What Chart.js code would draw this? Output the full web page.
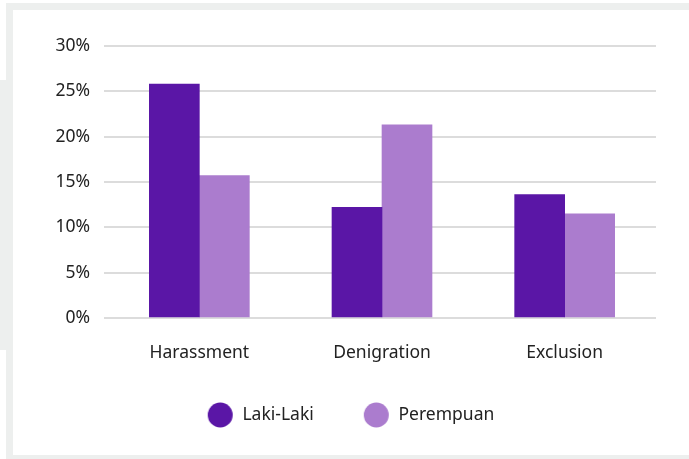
<!DOCTYPE html>
<html><head><meta charset="utf-8">
<script src="https://cdn.jsdelivr.net/npm/chart.js@4"></script>
<style>
html,body{margin:0;padding:0;background:#fff;width:689px;height:459px;overflow:hidden;position:relative}
#frame{position:absolute;left:6px;top:3px;width:683px;height:456px;background:#edefee}
#strip{position:absolute;left:0;top:80px;width:6px;height:270px;background:#edefee}
#panel{position:absolute;left:13px;top:10px;width:676px;height:445px;background:#fff}
</style></head><body>
<div id="frame"></div><div id="strip"></div>
<div id="panel"><canvas id="c" width="676" height="445"></canvas></div>
<script>
const categories = ['Harassment', 'Denigration', 'Exclusion'];
const lakiLaki = [25.8, 12.2, 13.6];
const perempuan = [15.7, 21.3, 11.5];
const seriesNames = ['Laki-Laki', 'Perempuan'];
const seriesColors = ['#5a16a6', '#ab7cce'];

function dot(color) {
  const c = document.createElement('canvas');
  c.width = 66; c.height = 26;
  const x = c.getContext('2d');
  x.fillStyle = color;
  x.beginPath(); x.arc(52.5, 13, 12.5, 0, 2 * Math.PI); x.fill();
  return c;
}
const dots = seriesColors.map(dot);

Chart.defaults.font.family = "'Noto Sans', sans-serif";
Chart.defaults.font.size = 17.5;
Chart.defaults.color = '#222';

new Chart(document.getElementById('c'), {
  type: 'bar',
  data: {
    labels: categories,
    datasets: [
      { label: seriesNames[0], data: lakiLaki, backgroundColor: seriesColors[0], barThickness: 50 },
      { label: seriesNames[1], data: perempuan, backgroundColor: seriesColors[1], barThickness: 50 }
    ]
  },
  options: {
    responsive: false,
    animation: false,
    devicePixelRatio: 1,
    layout: { padding: { left: -7, right: 33, top: 36, bottom: 21.25 } },
    scales: {
      x: {
        grid: { display: false, drawTicks: false },
        border: { display: false },
        ticks: { padding: 25, maxRotation: 0 },
        afterFit(s) { s.height = 78.25; }
      },
      y: {
        min: 0, max: 30,
        grid: { color: '#dcdcdc', lineWidth: 2, tickLength: 4, drawTicks: true },
        border: { display: false },
        ticks: { stepSize: 5, padding: 14, callback: v => v + '%' },
        afterFit(s) { s.width = 102; }
      }
    },
    plugins: {
      tooltip: { enabled: false },
      legend: {
        position: 'bottom',
        labels: {
          usePointStyle: true,
          pointStyleWidth: 66,
          padding: 10,
          generateLabels(chart) {
            const items = Chart.defaults.plugins.legend.labels.generateLabels(chart);
            items.forEach((it, i) => { it.pointStyle = dots[i]; });
            return items;
          }
        }
      }
    }
  }
});
</script>
</body></html>
